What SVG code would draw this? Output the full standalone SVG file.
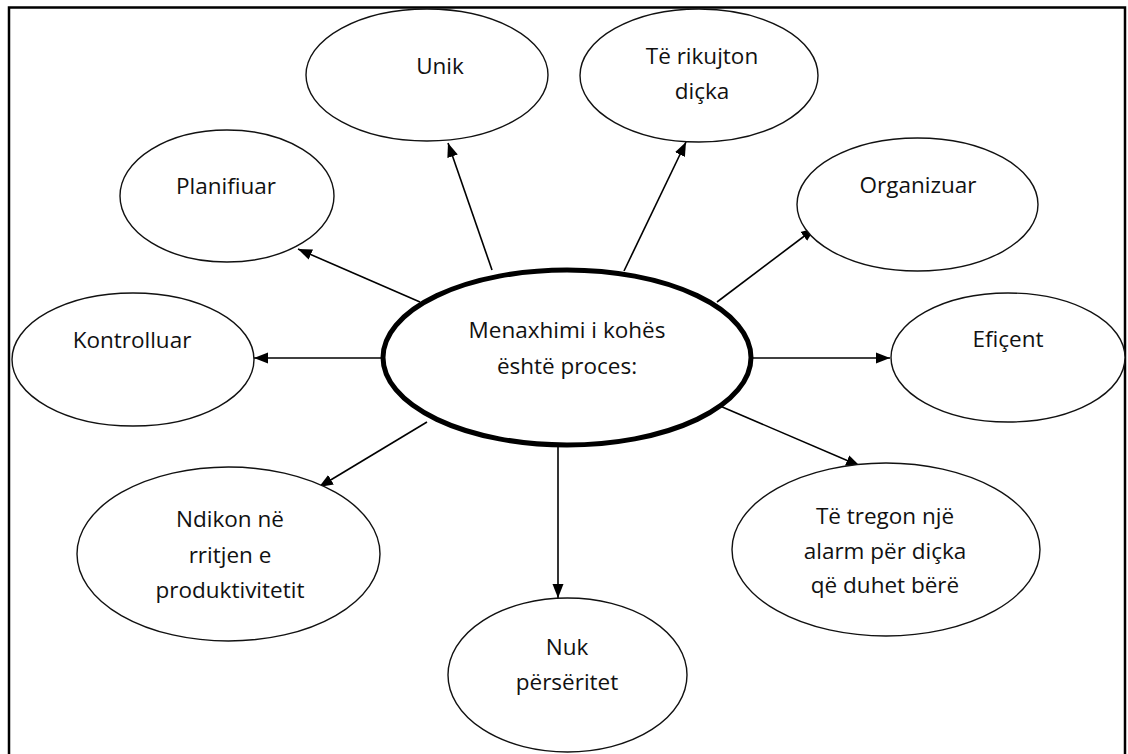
<svg xmlns="http://www.w3.org/2000/svg" width="1128" height="754" viewBox="0 0 1128 754">
<style>
.node{fill:#fff;stroke:#111;stroke-width:1.4}
.main{fill:#fff;stroke:#000;stroke-width:5}
.lbl{font-family:"Open Sans",sans-serif;font-size:22.5px;fill:#111;text-anchor:middle}
.conn{stroke:#000;stroke-width:1.6;fill:none;marker-end:url(#arr)}
</style>
<defs>
<marker id="arr" markerUnits="userSpaceOnUse" markerWidth="15" markerHeight="12" viewBox="0 0 15 12" refX="14" refY="6" orient="auto">
<path d="M0,0.5 L14,6 L0,11.5 Z" fill="#000"/>
</marker>
</defs>
<rect width="1128" height="754" fill="#fff"/>
<rect x="9" y="7.5" width="1116" height="760" fill="none" stroke="#000" stroke-width="2.5"/>
<g id="connectors">
<line class="conn" x1="420" y1="302" x2="298" y2="249"/>
<line class="conn" x1="492" y1="270" x2="448" y2="143"/>
<line class="conn" x1="624" y1="271" x2="686" y2="142"/>
<line class="conn" x1="717" y1="302" x2="815" y2="228"/>
<line class="conn" x1="751" y1="358" x2="890" y2="358"/>
<line class="conn" x1="381" y1="358" x2="254" y2="358"/>
<line class="conn" x1="427" y1="422" x2="319" y2="487"/>
<line class="conn" x1="558" y1="447" x2="558" y2="598"/>
<line class="conn" x1="713" y1="403" x2="860" y2="466"/>
</g>
<g id="unik">
<ellipse class="node" cx="427" cy="75" rx="121" ry="66"/>
<text class="lbl" x="440" y="74">Unik</text>
</g>
<g id="rikujton">
<ellipse class="node" cx="699" cy="75.5" rx="119" ry="66.5"/>
<text class="lbl" x="702" y="64">Të rikujton</text>
<text class="lbl" x="702" y="99">diçka</text>
</g>
<g id="planifiuar">
<ellipse class="node" cx="227" cy="196" rx="107" ry="66"/>
<text class="lbl" x="226" y="194">Planifiuar</text>
</g>
<g id="organizuar">
<ellipse class="node" cx="917.5" cy="204.5" rx="120.5" ry="66.5"/>
<text class="lbl" x="918" y="193">Organizuar</text>
</g>
<g id="kontrolluar">
<ellipse class="node" cx="133" cy="359.5" rx="121" ry="66.5"/>
<text class="lbl" x="132" y="348">Kontrolluar</text>
</g>
<g id="eficent">
<ellipse class="node" cx="1008" cy="357.5" rx="117" ry="64.5"/>
<text class="lbl" x="1008" y="347">Efiçent</text>
</g>
<g id="center">
<ellipse class="main" cx="567" cy="357.5" rx="184" ry="87.5"/>
<text class="lbl" x="567" y="338">Menaxhimi i kohës</text>
<text class="lbl" x="567" y="374">është proces:</text>
</g>
<g id="ndikon">
<ellipse class="node" cx="228.5" cy="554" rx="151.5" ry="87"/>
<text class="lbl" x="230" y="527">Ndikon në</text>
<text class="lbl" x="230" y="563">rritjen e</text>
<text class="lbl" x="230" y="598">produktivitetit</text>
</g>
<g id="tregon">
<ellipse class="node" cx="886" cy="549.5" rx="154" ry="86.5"/>
<text class="lbl" x="885" y="524">Të tregon një</text>
<text class="lbl" x="885" y="559">alarm për diçka</text>
<text class="lbl" x="885" y="593">që duhet bërë</text>
</g>
<g id="nuk">
<ellipse class="node" cx="567.5" cy="675" rx="119.5" ry="77"/>
<text class="lbl" x="567" y="655">Nuk</text>
<text class="lbl" x="567" y="690">përsëritet</text>
</g>
</svg>
